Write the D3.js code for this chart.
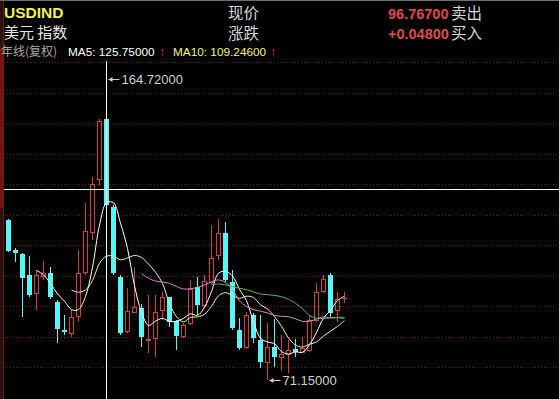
<!DOCTYPE html>
<html><head><meta charset="utf-8">
<script src="https://cdn.jsdelivr.net/npm/d3@7"></script>
<style>html,body{margin:0;padding:0;background:#000;overflow:hidden}</style>
</head><body><svg id="c" width="559" height="399"></svg>
<script>
const years = [1971,1972,1973,1974,1975,1976,1977,1978,1979,1980,1981,1982,1983,1984,1985,1986,1987,1988,1989,1990,1991,1992,1993,1994,1995,1996,1997,1998,1999,2000,2001,2002,2003,2004,2005,2006,2007,2008,2009,2010,2011,2012,2013,2014,2015,2016,2017,2018,2019];
const open = [120.89,111.57,110.32,103.79,98.20,103.48,104.42,95.40,86.70,85.77,91.05,104.73,117.16,133.63,152.29,124.93,103.17,86.39,92.29,93.54,83.59,84.21,92.92,96.96,89.50,84.83,88.88,100.06,94.47,101.62,110.01,116.85,101.62,86.70,81.42,91.36,83.59,76.75,81.42,78.31,79.24,80.79,79.86,80.48,89.81,98.82,103.79,92.92,96.72];
const high = [121.20,112.19,110.63,109.70,105.35,108.15,106.28,96.02,91.36,92.92,111.57,126.17,134.26,152.29,164.72,125.55,103.79,99.75,106.28,94.78,97.58,97.58,98.51,96.96,89.81,88.88,102.24,103.17,103.79,119.34,121.20,120.27,105.35,90.43,92.29,91.98,91.36,88.88,90.12,85.15,83.59,83.90,84.52,91.36,101.31,103.79,104.42,98.51,98.51];
const low = [110.90,107.83,90.74,96.96,92.92,102.24,96.34,82.66,85.15,84.52,89.19,103.79,114.67,131.77,124.93,103.79,85.15,85.77,91.98,81.42,79.55,78.31,89.81,87.63,80.48,84.21,88.25,91.36,93.54,101.00,108.46,101.62,86.70,80.48,80.79,82.66,74.89,71.15,75.20,73.95,73.33,78.31,79.86,79.86,89.19,98.20,90.74,89.19,95.09];
const close = [111.25,110.63,102.86,97.58,103.79,104.42,96.96,87.01,86.08,90.74,104.42,117.47,132.08,151.66,125.55,104.42,85.77,92.61,93.85,84.52,83.90,92.29,96.96,89.19,84.83,88.25,99.44,94.47,101.93,109.08,116.85,102.24,87.32,81.10,91.36,84.21,76.75,81.42,78.31,79.24,80.48,79.86,81.10,89.81,98.51,102.55,91.98,96.34,96.767];
const maPeriods = [5, 10, 20, 30];
const maColors = ["#ffffff", "#f4f47a", "#d886d8", "#4fbf4f"];
const maLabels = ["MA5: 125.75000", "MA10: 109.24600"];
const crossYear = 1985;
const crossValue = 130.53;
const changeText = "+0.04800";

const svg = d3.select("#c");
const W = 559, H = 399;
const UP = "#d63c3c", DOWN = "#54f6f6";

svg.append("rect").attr("width", W).attr("height", H).attr("fill", "#000");

const x = d3.scalePoint().domain(years).range([8.5, 344.5]);
const y = d3.scaleLinear().domain([71.15, 164.72]).range([380, 79]);

// grid (evenly spaced dotted lines)
const gridPix = d3.range(11).map(k => 62 + 30.5 * k);
svg.append("g").selectAll("line").data(gridPix).join("line")
  .attr("x1", 4).attr("x2", W)
  .attr("y1", d => Math.round(d) + 0.5).attr("y2", d => Math.round(d) + 0.5)
  .attr("stroke", "#701414").attr("stroke-width", 1).attr("stroke-dasharray", "1,2");

// left strip & top line
svg.append("rect").attr("x", 0).attr("y", 0).attr("width", 3).attr("height", H).attr("fill", "#2a1010");
svg.append("rect").attr("x", 0).attr("y", 48).attr("width", 3).attr("height", 160).attr("fill", "#7a1414");
svg.append("line").attr("x1", 3.5).attr("x2", 3.5).attr("y1", 0).attr("y2", H).attr("stroke", "#6a1818");
svg.append("line").attr("x1", 0).attr("x2", W).attr("y1", 0.5).attr("y2", 0.5).attr("stroke", "#6e6e6e");

// data rows
const data = years.map((yr, i) => ({yr, o: open[i], h: high[i], l: low[i], c: close[i]}));
const px = v => Math.round(y(v));

// candles
const g = svg.append("g");
data.forEach(d => {
  const cx = x(d.yr);
  const up = d.c >= d.o;
  const top = px(Math.max(d.o, d.c)), bot = px(Math.min(d.o, d.c));
  const hi = px(d.h), lo = px(d.l);
  if (up) {
    g.append("line").attr("x1", cx).attr("x2", cx).attr("y1", hi).attr("y2", top).attr("stroke", UP);
    g.append("line").attr("x1", cx).attr("x2", cx).attr("y1", bot).attr("y2", lo).attr("stroke", UP);
    if (bot - top < 1) {
      g.append("line").attr("x1", cx - 2.5).attr("x2", cx + 2.5).attr("y1", top + 0.5).attr("y2", top + 0.5).attr("stroke", UP);
    } else {
      g.append("rect").attr("x", cx - 2).attr("y", top + 0.5).attr("width", 4).attr("height", bot - top)
        .attr("fill", "none").attr("stroke", UP);
    }
  } else {
    g.append("line").attr("x1", cx).attr("x2", cx).attr("y1", hi).attr("y2", lo).attr("stroke", DOWN);
    g.append("rect").attr("x", cx - 2.5).attr("y", top).attr("width", 5).attr("height", Math.max(1, bot - top))
      .attr("fill", DOWN);
  }
});

// moving averages
maPeriods.forEach((n, k) => {
  const pts = [];
  for (let i = n - 1; i < close.length; i++) {
    pts.push([x(years[i]), y(d3.mean(close.slice(i - n + 1, i + 1)))]);
  }
  svg.append("path").attr("d", d3.line().curve(d3.curveCatmullRom.alpha(0.5))(pts))
    .attr("fill", "none").attr("stroke", maColors[k]).attr("stroke-width", 1);
});

// crosshair
svg.append("line").attr("x1", 4).attr("x2", W).attr("y1", Math.round(y(crossValue)) + 0.5).attr("y2", Math.round(y(crossValue)) + 0.5)
  .attr("stroke", "#ffffff");
svg.append("line").attr("x1", x(crossYear)).attr("x2", x(crossYear)).attr("y1", 61).attr("y2", H)
  .attr("stroke", "#ffffff");

// extreme labels
function extremeLabel(i, v) {
  const cx = x(years[i]) + 2;
  const yy = Math.round(y(v)) + 0.5;
  svg.append("line").attr("x1", cx).attr("x2", cx + 11).attr("y1", yy).attr("y2", yy).attr("stroke", "#cfcfcf");
  svg.append("path").attr("d", `M${cx},${yy}L${cx + 4},${yy - 2.5}L${cx + 4},${yy + 2.5}Z`).attr("fill", "#cfcfcf");
  svg.append("text").attr("x", cx + 13).attr("y", yy + 4.5).text(v.toFixed(5))
    .attr("fill", "#d0d0d0").attr("font-family", "Liberation Sans, Arial, sans-serif").attr("font-size", 13);
}
const iMax = high.indexOf(d3.max(high)), iMin = low.indexOf(d3.min(low));
extremeLabel(iMax, high[iMax]);
extremeLabel(iMin, low[iMin]);

// header
const cjk = "'Noto Sans CJK SC', sans-serif";
const lat = "'Liberation Sans', Arial, sans-serif";
svg.append("text").attr("x", 4).attr("y", 18).text("USDIND").attr("fill", "#f6f04a")
  .attr("font-family", lat).attr("font-weight", "bold").attr("font-size", 15.5);
svg.append("text").attr("x", 4).attr("y", 38).text("美元 指数").attr("fill", "#e6e6e6")
  .attr("font-family", cjk).attr("font-size", 15);
svg.append("text").attr("x", 228).attr("y", 19).text("现价").attr("fill", "#d6d6d6")
  .attr("font-family", cjk).attr("font-size", 15.5);
svg.append("text").attr("x", 228).attr("y", 39).text("涨跌").attr("fill", "#d6d6d6")
  .attr("font-family", cjk).attr("font-size", 15.5);
const last = close[close.length - 1];
svg.append("text").attr("x", 388).attr("y", 19).text(last.toFixed(5)).attr("fill", "#e04848")
  .attr("font-family", lat).attr("font-weight", "bold").attr("font-size", 14.5);
svg.append("text").attr("x", 388).attr("y", 39).text(changeText).attr("fill", "#e04848")
  .attr("font-family", lat).attr("font-weight", "bold").attr("font-size", 14.5);
svg.append("text").attr("x", 451).attr("y", 19).text("卖出").attr("fill", "#d6d6d6")
  .attr("font-family", cjk).attr("font-size", 15.5);
svg.append("text").attr("x", 451).attr("y", 39).text("买入").attr("fill", "#d6d6d6")
  .attr("font-family", cjk).attr("font-size", 15.5);

svg.append("text").attr("x", 1).attr("y", 56).text("年线(复权)").attr("fill", "#a8a8a8")
  .attr("font-family", cjk).attr("font-size", 12);
const hdrItems = [
  {t: maLabels[0], x: 68, c: "#ffffff"},
  {t: "↑", x: 159, c: "#e03030", b: true},
  {t: maLabels[1], x: 173, c: "#f4f47a"},
  {t: "↑", x: 270, c: "#e03030", b: true}
];
hdrItems.forEach(h => {
  svg.append("text").attr("x", h.x).attr("y", 56).text(h.t).attr("fill", h.c)
    .attr("font-family", lat).attr("font-size", h.b ? 12.5 : 11.8).attr("font-weight", h.b ? "bold" : "normal");
});
</script></body></html>
